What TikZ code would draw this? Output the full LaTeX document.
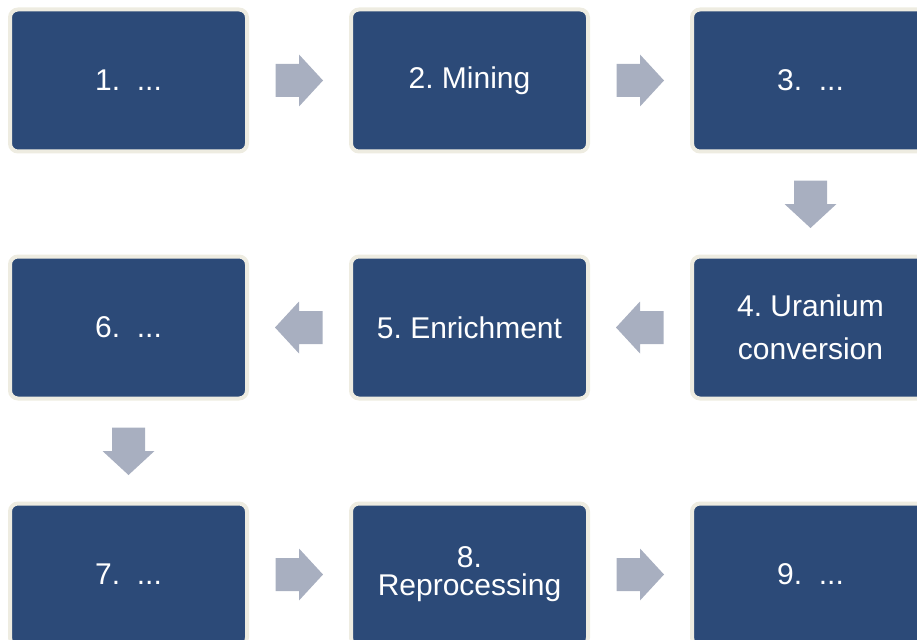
\documentclass[tikz,border=0pt]{standalone}
\usepackage{fontspec}
\setmainfont{Liberation Sans}
\frenchspacing
\usetikzlibrary{calc}

\definecolor{boxblue}{HTML}{2C4A78}
\definecolor{boxrim}{HTML}{EEECE1}
\definecolor{arrowgray}{HTML}{A8AFC0}

\tikzset{
  stage/.style={draw=boxrim, line width=4pt, fill=boxblue, rounded corners=8pt,
    minimum width=237pt, minimum height=142pt, text=white, align=center,
    font=\fontsize{30}{34}\selectfont},
  blockarrow/.pic={
    \fill[arrowgray] (-23.5,-16.5) -- (0,-16.5) -- (0,-26) -- (24,0)
      -- (0,26) -- (0,16.5) -- (-23.5,16.5) -- cycle;
  },
}

\begin{document}
\begin{tikzpicture}[x=1pt,y=-1pt]

  \useasboundingbox (0,0) rectangle (917,639);
  \clip (0,0) rectangle (917,639);

  % first row
  \node[stage] (b1) at (128.5,80.5) {1.\ \ ...};
  \node[stage] (b2) at (469.5,80.5) {2. Mining};
  \node[stage] (b3) at (810.5,80.5) {3.\ \ ...};

  % second row, back to the left
  \node[stage, font=\fontsize{30}{43}\selectfont] (b4) at (810.5,327.5) {4. Uranium\\conversion};
  \node[stage] (b5) at (469.5,327.5) {5. Enrichment};
  \node[stage] (b6) at (128.5,327.5) {6.\ \ ...};

  % third row
  \node[stage] (b7) at (128.5,574.5) {7.\ \ ...};
  \node[stage, font=\fontsize{30}{28}\selectfont] (b8) at (469.5,574.5) {8.\\Reprocessing};
  \node[stage] (b9) at (810.5,574.5) {9.\ \ ...};

  % arrows between the stages
  \pic at ($(b1.east)!.5!(b2.west)$) {blockarrow};
  \pic at ($(b2.east)!.5!(b3.west)$) {blockarrow};
  \pic[rotate=-90] at ($(b3.south)!.5!(b4.north)$) {blockarrow};
  \pic[rotate=180] at ($(b4.west)!.5!(b5.east)$) {blockarrow};
  \pic[rotate=180] at ($(b5.west)!.5!(b6.east)$) {blockarrow};
  \pic[rotate=-90] at ($(b6.south)!.5!(b7.north)$) {blockarrow};
  \pic at ($(b7.east)!.5!(b8.west)$) {blockarrow};
  \pic at ($(b8.east)!.5!(b9.west)$) {blockarrow};

\end{tikzpicture}
\end{document}
